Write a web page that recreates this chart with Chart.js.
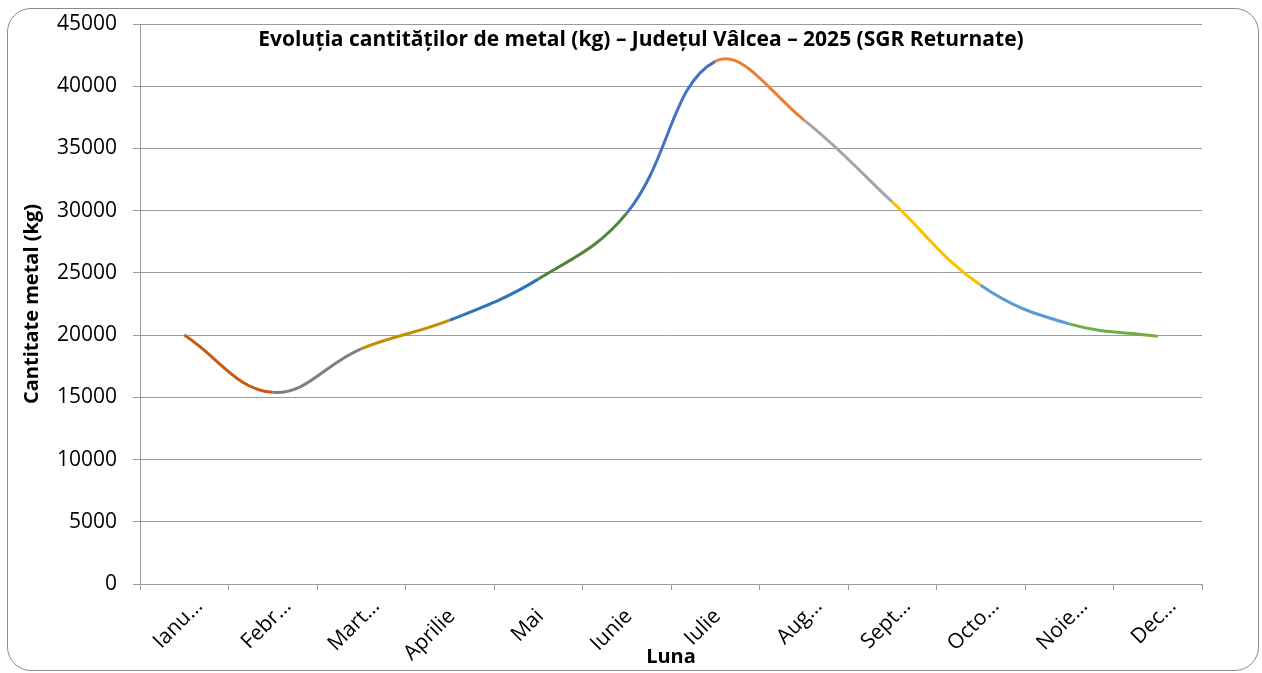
<!DOCTYPE html>
<html>
<head>
<meta charset="utf-8">
<script src="https://cdn.jsdelivr.net/npm/chart.js@4.4.1/dist/chart.umd.min.js"></script>
<style>
  html, body { margin: 0; padding: 0; background: #fff; }
  #wrap { position: relative; width: 1262px; height: 673px; overflow: hidden; }
  #frame {
    position: absolute; left: 7px; top: 8px; width: 1252px; height: 663px;
    border: 1px solid #8c8c8c; border-radius: 24px; box-sizing: border-box;
  }
  canvas { position: absolute; left: 0; top: 0; }
</style>
</head>
<body>
<div id="wrap">
  <div id="frame"></div>
  <canvas id="chart" width="1262" height="673"></canvas>
</div>
<script>
const chartTitle = "Evoluția cantităților de metal (kg) – Județul Vâlcea – 2025 (SGR Returnate)";
const months = ["Ianuarie", "Februarie", "Martie", "Aprilie", "Mai", "Iunie",
  "Iulie", "August", "Septembrie", "Octombrie", "Noiembrie", "Decembrie"];
const tickLabels = ["Ianu…", "Febr…", "Mart…", "Aprilie", "Mai", "Iunie",
  "Iulie", "Aug…", "Sept…", "Octo…", "Noie…", "Dec…"];
const metalKg = [20000, 15400, 18900, 21200, 24500, 29800,
  42000, 37300, 30700, 24000, 20900, 19900];
// colour of the segment ending at each month (Feb..Dec)
const segColors = ["#C55A11", "#7F7F7F", "#BF9000", "#2E75B6", "#548235",
  "#4472C4", "#ED7D31", "#A5A5A5", "#FFC000", "#5B9BD5", "#70AD47"];

const tickFont = { family: "'Open Sans', sans-serif", size: 21 };
const gridGray = "#9a9a9a";

const overlayTitle = {
  id: "overlayTitle",
  afterDraw(chart) {
    const ctx = chart.ctx;
    ctx.save();
    ctx.font = "bold 21px 'Open Sans', sans-serif";
    ctx.fillStyle = "#000";
    ctx.textAlign = "center";
    ctx.textBaseline = "middle";
    ctx.fillText(chartTitle, 641, 40, 770);
    ctx.restore();
  },
};

// excel lets the "…" hang past the anchor, so truncated labels go on a
// second category axis pinned at y=0 with a larger offset
const isCut = (i) => tickLabels[i].endsWith("…");

const xTicksBase = {
  font: tickFont, color: "#000", autoSkip: false,
  minRotation: 45, maxRotation: 45,
};

new Chart(document.getElementById("chart"), {
  type: "line",
  data: {
    labels: months,
    datasets: [{
      label: "Cantitate metal (kg)",
      data: metalKg,
      xAxisID: "x",
      borderWidth: 3,
      pointRadius: 0,
      tension: 0.4,
      segment: { borderColor: (c) => segColors[c.p1DataIndex - 1] },
      borderColor: segColors[0],
    }],
  },
  options: {
    responsive: false,
    animation: false,
    devicePixelRatio: 1,
    layout: { padding: { left: 0, top: 24, right: 60, bottom: 0 } },
    plugins: { legend: { display: false }, tooltip: { enabled: false } },
    scales: {
      x: {
        offset: true,
        grid: { offset: true, drawOnChartArea: false, tickLength: 6, color: gridGray },
        border: { color: gridGray },
        ticks: { ...xTicksBase, padding: 14, labelOffset: 2, callback: (v, i) => (isCut(i) ? "" : tickLabels[i]) },
        title: {
          display: true, text: "Luna", color: "#000",
          font: { family: "'Open Sans', sans-serif", size: 20, weight: "bold" },
          padding: { top: 0, bottom: 4 },
        },
        afterFit: (s) => { s.height = 89; s.paddingLeft = 0; s.paddingRight = 0; },
      },
      x2: {
        type: "category",
        position: { y: 0 },
        offset: true,
        grid: { offset: true, drawOnChartArea: false, tickLength: 6, color: "rgba(0,0,0,0)" },
        border: { display: false },
        ticks: { ...xTicksBase, padding: 4, labelOffset: 15, callback: (v, i) => (isCut(i) ? tickLabels[i] : "") },
      },
      y: {
        min: 0, max: 45000,
        grid: { color: gridGray, tickLength: 7 },
        border: { color: gridGray },
        ticks: {
          stepSize: 5000, font: tickFont, color: "#000", padding: 16,
          callback: (v) => String(v),
        },
        title: {
          display: true, text: "Cantitate metal (kg)", color: "#000",
          font: { family: "'Open Sans', sans-serif", size: 20, weight: "bold" },
          padding: { top: 20, bottom: 0 },
        },
        afterFit: (s) => { s.width = 140; s.paddingTop = 0; s.paddingBottom = 0; },
      },
    },
  },
  plugins: [overlayTitle],
});
</script>
</body>
</html>
